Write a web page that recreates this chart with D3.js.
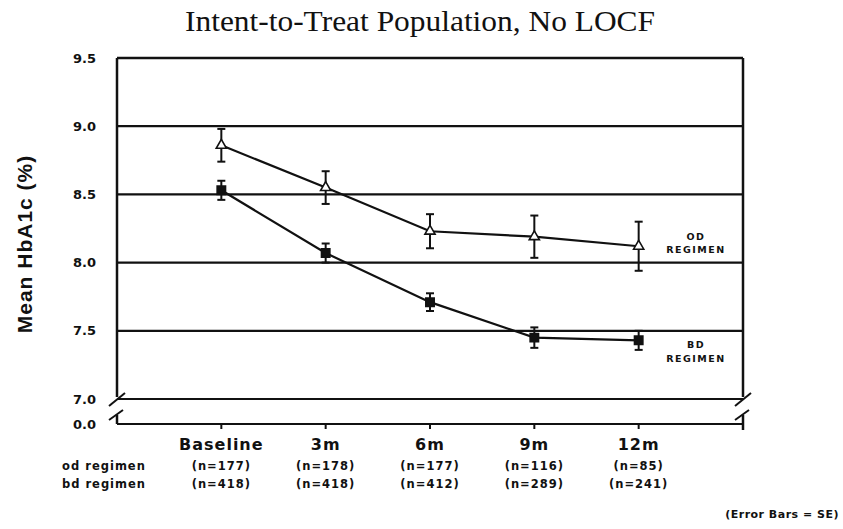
<!DOCTYPE html>
<html>
<head>
<meta charset="utf-8">
<script src="https://cdn.jsdelivr.net/npm/d3@7"></script>
<style>
  html, body { margin: 0; padding: 0; background: #fff; }
  svg { display: block; }
</style>
</head>
<body>
<svg id="chart" width="843" height="529"></svg>
<script>
// ---- data ----
const categories = ["Baseline", "3m", "6m", "9m", "12m"];
const odMean = [8.86, 8.55, 8.23, 8.19, 8.12];
const odSE   = [0.12, 0.12, 0.125, 0.155, 0.18];
const bdMean = [8.53, 8.07, 7.71, 7.45, 7.43];
const bdSE   = [0.07, 0.07, 0.065, 0.075, 0.07];
const odN = ["(n=177)", "(n=178)", "(n=177)", "(n=116)", "(n=85)"];
const bdN = ["(n=418)", "(n=418)", "(n=412)", "(n=289)", "(n=241)"];
const yTicks = [0.0, 7.0, 7.5, 8.0, 8.5, 9.0, 9.5];
const gridValues = [7.5, 8.0, 8.5, 9.0];
const rowLabels = ["od regimen", "bd regimen"];

// ---- layout ----
const plotLeft = 117, plotRight = 743, plotTop = 58;
const svg = d3.select("#chart");
svg.append("rect").attr("width", 843).attr("height", 529).attr("fill", "#fff");

const x = d3.scalePoint().domain(categories).range([plotLeft, plotRight]).padding(1);
const y = d3.scaleLinear().domain([0, 7, 9.5]).range([424, 399, plotTop]);

const ink = "#111";
const boldFont = "'DejaVu Sans', sans-serif";

// title
svg.append("text")
  .attr("x", 420).attr("y", 31)
  .attr("text-anchor", "middle")
  .attr("font-family", "'Liberation Serif', 'Times New Roman', serif")
  .attr("font-size", 29)
  .attr("textLength", 470).attr("lengthAdjust", "spacingAndGlyphs")
  .attr("fill", ink)
  .text("Intent-to-Treat Population, No LOCF");

// horizontal lines: frame top, grid, 7.0 and 0.0
const hLines = [9.5, ...gridValues, 7.0, 0.0];
svg.append("g").selectAll("line").data(hLines).join("line")
  .attr("x1", plotLeft).attr("x2", plotRight)
  .attr("y1", d => y(d)).attr("y2", d => y(d))
  .attr("stroke", ink)
  .attr("stroke-width", d => (d === 9.5 ? 2.5 : 2.2));

// vertical frame segments (broken between 7.0 and 0.0)
const g = svg.append("g").attr("stroke", ink).attr("fill", "none");
[plotLeft, plotRight].forEach(xx => {
  g.append("line").attr("x1", xx).attr("x2", xx).attr("y1", y(9.5)).attr("y2", y(7.0) - 2).attr("stroke-width", 2.5);
  g.append("line").attr("x1", xx).attr("x2", xx).attr("y1", y(0) - 9).attr("y2", y(0) + (xx === plotRight ? 6 : 0)).attr("stroke-width", 2.5);
  // break marks
  g.append("line").attr("x1", xx - 8).attr("y1", y(7.0) + 7).attr("x2", xx + 8).attr("y2", y(7.0) - 6).attr("stroke-width", 2);
  g.append("line").attr("x1", xx - 8).attr("y1", y(0) - 4).attr("x2", xx + 6).attr("y2", y(0) - 14).attr("stroke-width", 2);
});

// x ticks on the 0.0 axis
svg.append("g").selectAll("line").data(categories).join("line")
  .attr("x1", d => x(d)).attr("x2", d => x(d))
  .attr("y1", y(0)).attr("y2", y(0) + 5)
  .attr("stroke", ink).attr("stroke-width", 2);

// y tick labels
svg.append("g").selectAll("text").data(yTicks).join("text")
  .attr("x", 96).attr("y", d => y(d))
  .attr("dy", "0.36em")
  .attr("text-anchor", "end")
  .attr("font-family", boldFont).attr("font-weight", "bold")
  .attr("font-size", 13)
  .attr("fill", ink)
  .text(d => d.toFixed(1));

// y axis title
svg.append("text")
  .attr("transform", "translate(32,244) rotate(-90)")
  .attr("text-anchor", "middle")
  .attr("font-family", "'Liberation Sans', Arial, sans-serif")
  .attr("font-weight", "bold")
  .attr("font-size", 21).attr("letter-spacing", 1)
  .attr("fill", ink)
  .text("Mean HbA1c (%)");

// category labels
svg.append("g").selectAll("text").data(categories).join("text")
  .attr("x", d => x(d)).attr("y", 450)
  .attr("text-anchor", "middle")
  .attr("font-family", boldFont).attr("font-weight", "bold")
  .attr("font-size", 16).attr("letter-spacing", 1)
  .attr("fill", ink)
  .text(d => d);

// row labels
rowLabels.forEach((lab, i) => {
  svg.append("text")
    .attr("x", 104).attr("y", 470 + i * 18)
    .attr("text-anchor", "middle")
    .attr("font-family", boldFont).attr("font-weight", "bold")
    .attr("font-size", 11.5).attr("letter-spacing", 1)
    .attr("fill", ink)
    .text(lab);
});
[odN, bdN].forEach((arr, i) => {
  svg.append("g").selectAll("text").data(arr).join("text")
    .attr("x", (d, j) => x(categories[j])).attr("y", 470 + i * 18)
    .attr("text-anchor", "middle")
    .attr("font-family", boldFont).attr("font-weight", "bold")
    .attr("font-size", 11.5).attr("letter-spacing", 1)
    .attr("fill", ink)
    .text(d => d);
});

// error bars note
svg.append("text")
  .attr("x", 839).attr("y", 518)
  .attr("text-anchor", "end")
  .attr("font-family", boldFont).attr("font-weight", "bold")
  .attr("font-size", 11).attr("letter-spacing", 0.5)
  .attr("fill", ink)
  .text("(Error Bars = SE)");

// series
function drawSeries(means, ses, marker) {
  const pts = means.map((m, i) => ({ c: categories[i], m, se: ses[i] }));
  const line = d3.line().x(d => x(d.c)).y(d => y(d.m));
  svg.append("path").datum(pts).attr("d", line)
    .attr("fill", "none").attr("stroke", ink).attr("stroke-width", 2.2);
  const eb = svg.append("g").attr("stroke", ink).attr("stroke-width", 2);
  pts.forEach(d => {
    const cx = x(d.c);
    eb.append("line").attr("x1", cx).attr("x2", cx).attr("y1", y(d.m + d.se)).attr("y2", y(d.m - d.se));
    eb.append("line").attr("x1", cx - 4).attr("x2", cx + 4).attr("y1", y(d.m + d.se)).attr("y2", y(d.m + d.se));
    eb.append("line").attr("x1", cx - 4).attr("x2", cx + 4).attr("y1", y(d.m - d.se)).attr("y2", y(d.m - d.se));
  });
  const sym = marker === "triangle" ? d3.symbolTriangle : d3.symbolSquare;
  svg.append("g").selectAll("path").data(pts).join("path")
    .attr("transform", d => `translate(${x(d.c)},${y(d.m)})`)
    .attr("d", d3.symbol().type(sym).size(marker === "triangle" ? 45 : 70))
    .attr("fill", marker === "triangle" ? "#fff" : ink)
    .attr("stroke", ink).attr("stroke-width", 1.6);
}
drawSeries(odMean, odSE, "triangle");
drawSeries(bdMean, bdSE, "square");

// series labels at right
const seriesLabels = [
  { lines: ["OD", "REGIMEN"], v: odMean[odMean.length - 1], off: [-6, 7] },
  { lines: ["BD", "REGIMEN"], v: bdMean[bdMean.length - 1], off: [8, 22] }
];
seriesLabels.forEach(s => {
  s.lines.forEach((t, i) => {
    svg.append("text")
      .attr("x", 696).attr("y", y(s.v) + s.off[i])
      .attr("text-anchor", "middle")
      .attr("font-family", boldFont).attr("font-weight", "bold")
      .attr("font-size", 9.5).attr("letter-spacing", 1.5)
      .attr("fill", ink)
      .text(t);
  });
});
</script>
</body>
</html>
